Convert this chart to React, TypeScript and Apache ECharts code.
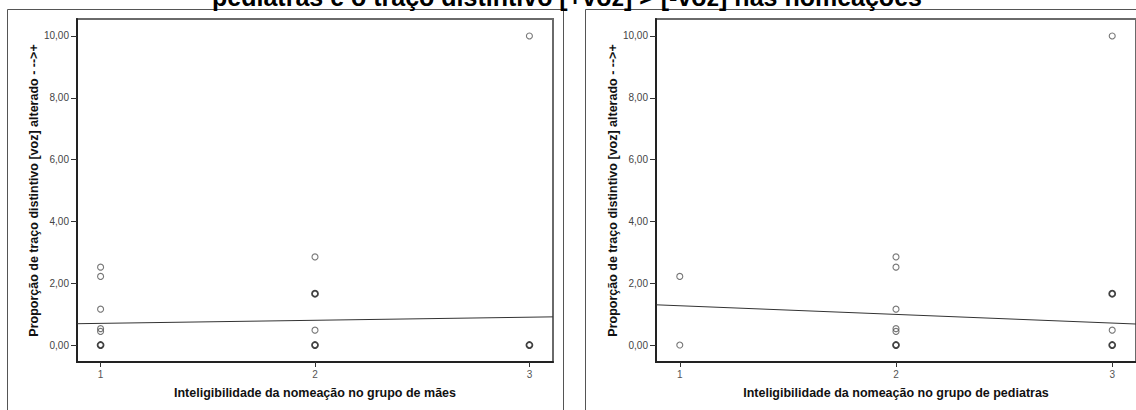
import React, { useEffect, useRef } from "react";
import * as echarts from "echarts";

const titleText = "pediatras e o traço distintivo [+voz] > [-voz] nas nomeações";
const yAxisTitle = "Proporção de traço distintivo [voz] alterado - -->+";
const xTitleMaes = "Inteligibilidade da nomeação no grupo de mães";
const xTitlePed = "Inteligibilidade da nomeação no grupo de pediatras";

const xTicks = [1, 2, 3];
const yTicks = [0, 2, 4, 6, 8, 10];
const xRange = [0.89, 3.11];
const yRange = [-0.55, 10.55];

// single observations [x, y]
const maesSingle: number[][] = [
  [1, 2.52], [1, 2.22], [1, 1.16], [1, 0.53], [1, 0.44],
  [2, 2.85], [2, 0.48],
  [3, 10],
];
// overlapping (several) observations [x, y]
const maesMulti: number[][] = [[1, 0], [2, 1.66], [2, 0], [3, 0]];

const pedSingle: number[][] = [
  [1, 2.22], [1, 0],
  [2, 2.85], [2, 2.52], [2, 1.16], [2, 0.53], [2, 0.44],
  [3, 0.48], [3, 10],
];
const pedMulti: number[][] = [[2, 0], [3, 1.66], [3, 0]];

// fit lines: [intercept, slope]
const fitMaes = [0.6, 0.1];
const fitPed = [1.55, -0.28];

const FONT = "'Liberation Sans', Arial, sans-serif";

function fitData(f: number[]) {
  return xRange.map((x) => [x, f[0] + f[1] * x]);
}

export default function App() {
  const ref = useRef<HTMLDivElement>(null);
  useEffect(() => {
    document.body.style.margin = "0";
    const chart = echarts.init(ref.current!, null, { renderer: "svg" });
    const fmtY = (v: number) => v.toFixed(2).replace(".", ",");
    const mkX = (gi: number, name: string) => ({
      type: "value",
      gridIndex: gi,
      min: xRange[0],
      max: xRange[1],
      name,
      nameLocation: "middle",
      nameGap: 24,
      nameTextStyle: { fontFamily: FONT, fontWeight: "bold", fontSize: 12.5, color: "#111" },
      splitLine: { show: false },
      axisLine: { show: true, onZero: false, lineStyle: { color: "#222", width: 2 } },
      axisTick: { show: true, length: 5, customValues: xTicks, lineStyle: { color: "#333" } },
      axisLabel: {
        customValues: xTicks,
        margin: 7,
        fontFamily: FONT,
        fontSize: 10,
        color: "#555",
        formatter: (v: number) => String(v),
      },
    });
    const mkY = (gi: number) => ({
      type: "value",
      gridIndex: gi,
      min: yRange[0],
      max: yRange[1],
      name: yAxisTitle,
      nameLocation: "middle",
      nameRotate: 90,
      nameGap: 33,
      nameTextStyle: { fontFamily: FONT, fontWeight: "bold", fontSize: 12.5, color: "#111" },
      splitLine: { show: false },
      axisLine: { show: true, onZero: false, lineStyle: { color: "#222", width: 2 } },
      axisTick: { show: true, length: 6, customValues: yTicks, lineStyle: { color: "#333" } },
      axisLabel: {
        customValues: yTicks,
        margin: 8,
        fontFamily: FONT,
        fontSize: 10,
        color: "#444",
        formatter: fmtY,
      },
    });
    const single = (gi: number, data: number[][]) => ({
      type: "scatter",
      xAxisIndex: gi,
      yAxisIndex: gi,
      data,
      symbol: "circle",
      symbolSize: 6,
      itemStyle: { color: "rgba(255,255,255,0)", borderColor: "#555", borderWidth: 1.1 },
      silent: true,
    });
    const multi = (gi: number, data: number[][]) => ({
      type: "scatter",
      xAxisIndex: gi,
      yAxisIndex: gi,
      data,
      symbol: "circle",
      symbolSize: 6,
      itemStyle: { color: "rgba(255,255,255,0)", borderColor: "#111", borderWidth: 1.8 },
      silent: true,
    });
    const fit = (gi: number, f: number[]) => ({
      type: "line",
      xAxisIndex: gi,
      yAxisIndex: gi,
      data: fitData(f),
      symbol: "none",
      lineStyle: { color: "#333", width: 1 },
      silent: true,
    });
    chart.setOption({
      animation: false,
      backgroundColor: "#fff",
      textStyle: { fontFamily: FONT },
      grid: [
        { left: 77, top: 19, width: 476, height: 343, show: true, borderColor: "#6a6a6a", borderWidth: 2, backgroundColor: "transparent" },
        { left: 656, top: 19, width: 484, height: 343, show: true, borderColor: "#6a6a6a", borderWidth: 2, backgroundColor: "transparent" },
      ],
      xAxis: [mkX(0, xTitleMaes), mkX(1, xTitlePed)],
      yAxis: [mkY(0), mkY(1)],
      graphic: [
        {
          type: "rect",
          shape: { x: 7.5, y: 9.5, width: 556, height: 420 },
          style: { fill: "none", stroke: "#555", lineWidth: 1 },
          silent: true,
        },
        {
          type: "rect",
          shape: { x: 585.5, y: 9.5, width: 600, height: 420 },
          style: { fill: "none", stroke: "#555", lineWidth: 1 },
          silent: true,
        },
        {
          type: "text",
          x: 567,
          y: -3,
          style: {
            text: titleText,
            font: "bold 25px " + FONT,
            fill: "#000",
            align: "center",
            verticalAlign: "middle",
          },
          silent: true,
        },
      ],
      series: [
        fit(0, fitMaes),
        single(0, maesSingle),
        multi(0, maesMulti),
        fit(1, fitPed),
        single(1, pedSingle),
        multi(1, pedMulti),
      ],
    });
    return () => chart.dispose();
  }, []);
  return (
    <div
      ref={ref}
      style={{ position: "fixed", left: 0, top: 0, width: 1136, height: 410 }}
    />
  );
}
